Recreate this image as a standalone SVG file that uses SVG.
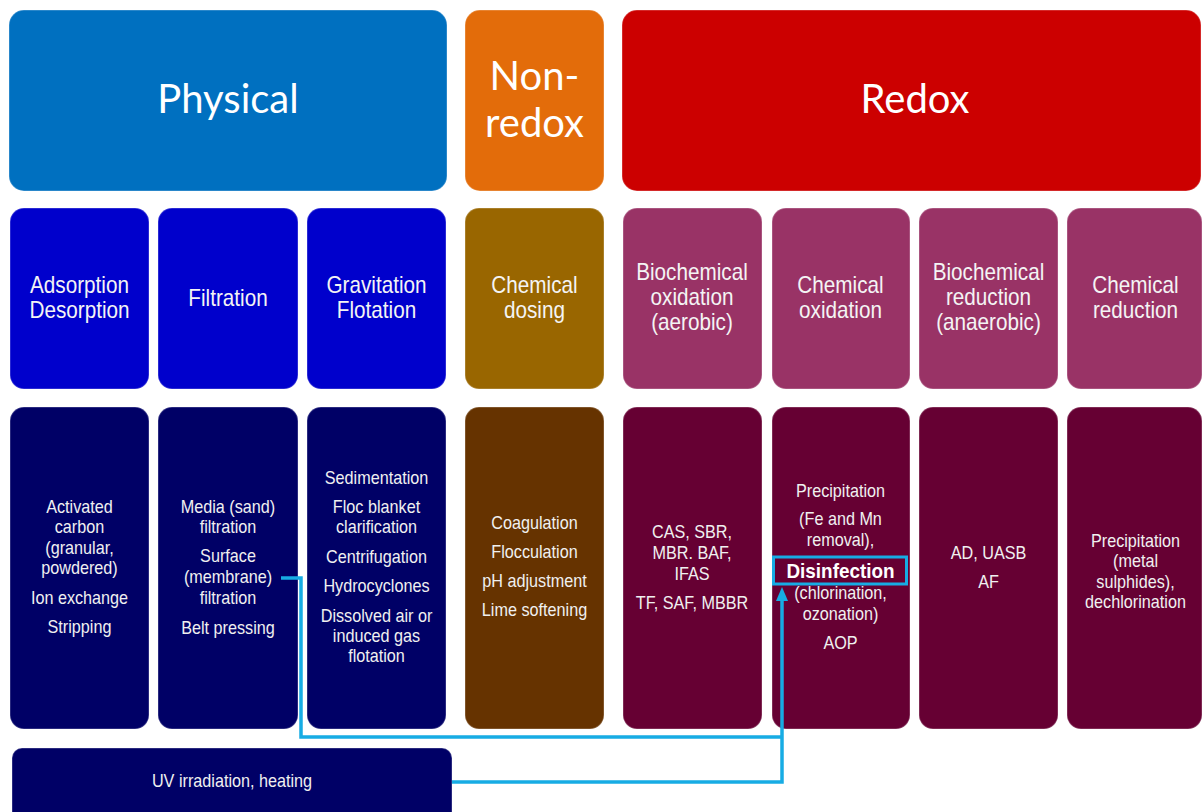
<svg xmlns="http://www.w3.org/2000/svg" width="1202" height="812" viewBox="0 0 1202 812">
<defs>
<style>
.box{stroke:#ffffff;stroke-opacity:0.22;stroke-width:1.5}
.top{font-family:Lato,"Open Sans","Noto Sans",sans-serif;font-size:40px;fill:#ffffff;text-anchor:middle}
.mid{font-family:"Liberation Sans",Arial,sans-serif;font-size:23px;fill:#f4f4f4;text-anchor:middle}
.bot{font-family:"Liberation Sans",Arial,sans-serif;font-size:18px;fill:#f0f0f0;text-anchor:middle}
.bold{font-family:"Liberation Sans",Arial,sans-serif;font-size:21px;font-weight:bold;fill:#ffffff;text-anchor:middle}
.conn{fill:none;stroke:#17ACE4;stroke-width:3.5}
.hl{fill:none;stroke:#17ACE4;stroke-width:3}
</style>
<marker id="arrow" viewBox="0 0 14 12" markerUnits="userSpaceOnUse" markerWidth="14" markerHeight="12" refX="9" refY="6" orient="auto">
<path d="M0,0 L14,6 L0,12 z" fill="#17ACE4"/>
</marker>
</defs>
<rect width="1202" height="812" fill="#ffffff"/>

<!-- Top row -->
<g id="physical">
<rect class="box" x="9" y="10" width="438" height="181" rx="15" fill="#0070C0"/>
<text class="top" x="228" y="113">Physical</text>
</g>
<g id="non-redox">
<rect class="box" x="465" y="10" width="139" height="181" rx="15" fill="#E36C0A"/>
<text class="top" x="534.5" y="90">Non-</text>
<text class="top" x="534.5" y="137">redox</text>
</g>
<g id="redox">
<rect class="box" x="622" y="10" width="579" height="181" rx="15" fill="#CC0000"/>
<text class="top" x="915" y="113">Redox</text>
</g>

<!-- Middle row -->
<g id="adsorption">
<rect class="box" x="10" y="208" width="139" height="181" rx="14" fill="#0000CC"/>
<g transform="translate(79.5 0) scale(0.9 1)">
<text class="mid" x="0" y="293">Adsorption</text>
<text class="mid" x="0" y="318">Desorption</text>
</g>
</g>
<g id="filtration">
<rect class="box" x="158" y="208" width="140" height="181" rx="14" fill="#0000CC"/>
<g transform="translate(228 0) scale(0.9 1)">
<text class="mid" x="0" y="306">Filtration</text>
</g>
</g>
<g id="gravitation">
<rect class="box" x="307" y="208" width="139" height="181" rx="14" fill="#0000CC"/>
<g transform="translate(376.5 0) scale(0.9 1)">
<text class="mid" x="0" y="293">Gravitation</text>
<text class="mid" x="0" y="318">Flotation</text>
</g>
</g>
<g id="chemical-dosing">
<rect class="box" x="465" y="208" width="139" height="181" rx="14" fill="#996600"/>
<g transform="translate(534.5 0) scale(0.9 1)">
<text class="mid" x="0" y="293">Chemical</text>
<text class="mid" x="0" y="318">dosing</text>
</g>
</g>
<g id="biochemical-oxidation">
<rect class="box" x="623" y="208" width="139" height="181" rx="14" fill="#993366"/>
<g transform="translate(692 0) scale(0.9 1)">
<text class="mid" x="0" y="280">Biochemical</text>
<text class="mid" x="0" y="305">oxidation</text>
<text class="mid" x="0" y="330">(aerobic)</text>
</g>
</g>
<g id="chemical-oxidation">
<rect class="box" x="772" y="208" width="138" height="181" rx="14" fill="#993366"/>
<g transform="translate(840.5 0) scale(0.9 1)">
<text class="mid" x="0" y="293">Chemical</text>
<text class="mid" x="0" y="318">oxidation</text>
</g>
</g>
<g id="biochemical-reduction">
<rect class="box" x="919" y="208" width="139" height="181" rx="14" fill="#993366"/>
<g transform="translate(988.5 0) scale(0.9 1)">
<text class="mid" x="0" y="280">Biochemical</text>
<text class="mid" x="0" y="305">reduction</text>
<text class="mid" x="0" y="330">(anaerobic)</text>
</g>
</g>
<g id="chemical-reduction">
<rect class="box" x="1067" y="208" width="135" height="181" rx="14" fill="#993366"/>
<g transform="translate(1135.5 0) scale(0.9 1)">
<text class="mid" x="0" y="293">Chemical</text>
<text class="mid" x="0" y="318">reduction</text>
</g>
</g>

<!-- Bottom row -->
<g id="adsorption-methods">
<rect class="box" x="10" y="407" width="139" height="322" rx="14" fill="#000066"/>
<g transform="translate(79.5 0) scale(0.9 1)">
<text class="bot" x="0" y="513">Activated</text>
<text class="bot" x="0" y="533">carbon</text>
<text class="bot" x="0" y="554">(granular,</text>
<text class="bot" x="0" y="574">powdered)</text>
<text class="bot" x="0" y="604">Ion exchange</text>
<text class="bot" x="0" y="633">Stripping</text>
</g>
</g>
<g id="filtration-methods">
<rect class="box" x="158" y="407" width="140" height="322" rx="14" fill="#000066"/>
<g transform="translate(228 0) scale(0.9 1)">
<text class="bot" x="0" y="513">Media (sand)</text>
<text class="bot" x="0" y="533">filtration</text>
<text class="bot" x="0" y="562">Surface</text>
<text class="bot" x="0" y="583">(membrane)</text>
<text class="bot" x="0" y="604">filtration</text>
<text class="bot" x="0" y="634">Belt pressing</text>
</g>
</g>
<g id="gravitation-methods">
<rect class="box" x="307" y="407" width="139" height="322" rx="14" fill="#000066"/>
<g transform="translate(376.5 0) scale(0.9 1)">
<text class="bot" x="0" y="484">Sedimentation</text>
<text class="bot" x="0" y="513">Floc blanket</text>
<text class="bot" x="0" y="533">clarification</text>
<text class="bot" x="0" y="563">Centrifugation</text>
<text class="bot" x="0" y="592">Hydrocyclones</text>
<text class="bot" x="0" y="622">Dissolved  air or</text>
<text class="bot" x="0" y="642">induced  gas</text>
<text class="bot" x="0" y="662">flotation</text>
</g>
</g>
<g id="chemical-dosing-methods">
<rect class="box" x="465" y="407" width="139" height="322" rx="14" fill="#663300"/>
<g transform="translate(534.5 0) scale(0.9 1)">
<text class="bot" x="0" y="529">Coagulation</text>
<text class="bot" x="0" y="558">Flocculation</text>
<text class="bot" x="0" y="587">pH adjustment</text>
<text class="bot" x="0" y="616">Lime  softening</text>
</g>
</g>
<g id="biochemical-oxidation-methods">
<rect class="box" x="623" y="407" width="139" height="322" rx="14" fill="#660033"/>
<g transform="translate(692 0) scale(0.9 1)">
<text class="bot" x="0" y="538">CAS, SBR,</text>
<text class="bot" x="0" y="559">MBR. BAF,</text>
<text class="bot" x="0" y="580">IFAS</text>
<text class="bot" x="0" y="609">TF, SAF, MBBR</text>
</g>
</g>
<g id="chemical-oxidation-methods">
<rect class="box" x="772" y="407" width="138" height="322" rx="14" fill="#660033"/>
<g transform="translate(840.5 0) scale(0.9 1)">
<text class="bot" x="0" y="497">Precipitation</text>
<text class="bot" x="0" y="525">(Fe and Mn</text>
<text class="bot" x="0" y="546">removal),</text>
<text class="bold" x="0" y="578">Disinfection</text>
<text class="bot" x="0" y="599">(chlorination,</text>
<text class="bot" x="0" y="620">ozonation)</text>
<text class="bot" x="0" y="649">AOP</text>
</g>
<rect class="hl" x="773.5" y="557" width="133" height="27"/>
</g>
<g id="biochemical-reduction-methods">
<rect class="box" x="919" y="407" width="139" height="322" rx="14" fill="#660033"/>
<g transform="translate(988.5 0) scale(0.9 1)">
<text class="bot" x="0" y="559">AD, UASB</text>
<text class="bot" x="0" y="588">AF</text>
</g>
</g>
<g id="chemical-reduction-methods">
<rect class="box" x="1067" y="407" width="135" height="322" rx="14" fill="#660033"/>
<g transform="translate(1135.5 0) scale(0.9 1)">
<text class="bot" x="0" y="547">Precipitation</text>
<text class="bot" x="0" y="567">(metal</text>
<text class="bot" x="0" y="588">sulphides),</text>
<text class="bot" x="0" y="608">dechlorination</text>
</g>
</g>

<g id="uv">
<rect class="box" x="12" y="748" width="440" height="90" rx="10" fill="#000066"/>
<g transform="translate(232 0) scale(0.9 1)">
<text class="bot" x="0" y="787">UV irradiation,  heating</text>
</g>
</g>

<!-- Connectors -->
<g id="connectors">
<path class="conn" d="M281 578 H301 V737 H782"/>
<path class="conn" d="M452 782 H782 V592" marker-end="url(#arrow)"/>
</g>
</svg>
